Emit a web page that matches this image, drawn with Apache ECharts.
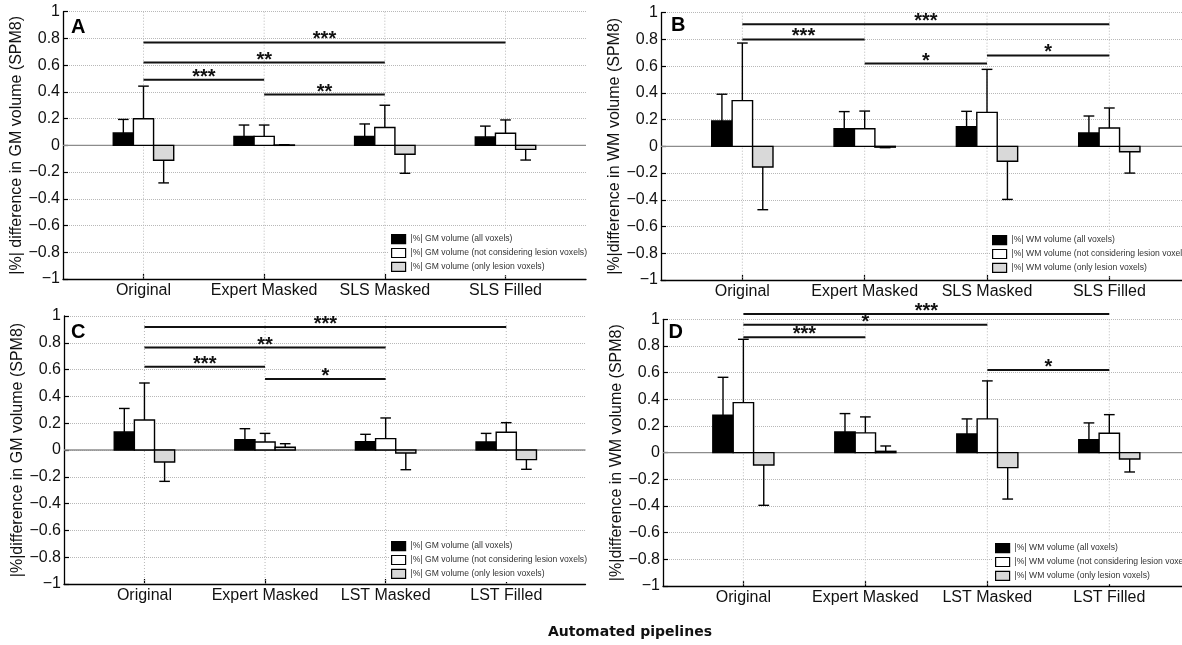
<!DOCTYPE html>
<html>
<head>
<meta charset="utf-8">
<title>|%| difference in GM / WM volume (SPM8)</title>
<script src="https://cdn.jsdelivr.net/npm/echarts@6/dist/echarts.min.js"></script>
<style>
html, body { margin: 0; padding: 0; background: #fff; }
#main { width: 1182px; height: 645px; }
</style>
</head>
<body>
<div id="main"></div>
<script>
// category labels
var catsSLS = ['Original', 'Expert Masked', 'SLS Masked', 'SLS Filled'];
var catsLST = ['Original', 'Expert Masked', 'LST Masked', 'LST Filled'];
var catPos = [1, 2, 3, 4];

// A : GM, SLS pipelines  (mean and sd)
var slsGmAll     = [0.092, 0.067, 0.067, 0.062];
var slsGmAllSd   = [0.102, 0.085, 0.093, 0.082];
var slsGmNoLes   = [0.199, 0.067, 0.134, 0.090];
var slsGmNoLesSd = [0.244, 0.085, 0.166, 0.100];
var slsGmLes     = [-0.112, 0.003, -0.067, -0.030];
var slsGmLesSd   = [0.169, 0.002, 0.142, 0.080];

// B : WM, SLS pipelines
var slsWmAll     = [0.190, 0.132, 0.147, 0.100];
var slsWmAllSd   = [0.200, 0.128, 0.115, 0.127];
var slsWmNoLes   = [0.342, 0.132, 0.254, 0.137];
var slsWmNoLesSd = [0.431, 0.132, 0.322, 0.150];
var slsWmLes     = [-0.155, -0.006, -0.112, -0.040];
var slsWmLesSd   = [0.319, 0.004, 0.285, 0.160];

// C : GM, LST pipelines
var lstGmAll     = [0.134, 0.077, 0.062, 0.060];
var lstGmAllSd   = [0.176, 0.082, 0.055, 0.064];
var lstGmNoLes   = [0.224, 0.060, 0.085, 0.132];
var lstGmNoLesSd = [0.276, 0.064, 0.154, 0.072];
var lstGmLes     = [-0.090, 0.020, -0.022, -0.072];
var lstGmLesSd   = [0.144, 0.027, 0.125, 0.072];

// D : WM, LST pipelines
var lstWmAll     = [0.280, 0.155, 0.140, 0.098];
var lstWmAllSd   = [0.285, 0.138, 0.113, 0.125];
var lstWmNoLes   = [0.375, 0.148, 0.253, 0.145];
var lstWmNoLesSd = [0.475, 0.120, 0.285, 0.140];
var lstWmLes     = [-0.093, 0.010, -0.112, -0.048];
var lstWmLesSd   = [0.302, 0.040, 0.236, 0.097];

// significance brackets (from category, to category, height, stars)
var sigFromA = [1, 1, 1, 2], sigToA = [4, 3, 2, 3], sigYA = [0.77, 0.62, 0.49, 0.38], sigTextA = ['***', '**', '***', '**'];
var sigFromB = [1, 1, 2, 3], sigToB = [4, 2, 3, 4], sigYB = [0.913, 0.80, 0.62, 0.68], sigTextB = ['***', '***', '*', '*'];
var sigFromC = [1, 1, 1, 2], sigToC = [4, 3, 2, 3], sigYC = [0.918, 0.764, 0.622, 0.53], sigTextC = ['***', '**', '***', '*'];
var sigFromD = [1, 1, 1, 3], sigToD = [4, 3, 2, 4], sigYD = [1.04, 0.96, 0.865, 0.62], sigTextD = ['***', '*', '***', '*'];

var BAR_W = 0.167;   // bar width in category units
var CAP_W = 0.088;   // error bar cap width
var FONT = "'Liberation Sans', Arial, Helvetica, sans-serif";

var panels = [
  { letter: 'A', cats: catsSLS, tissue: 'GM', yName: '|%| difference in GM volume (SPM8)',
    vals: [slsGmAll, slsGmNoLes, slsGmLes], sds: [slsGmAllSd, slsGmNoLesSd, slsGmLesSd],
    sig: [sigFromA, sigToA, sigYA, sigTextA],
    grid: { left: 63, top: 11.7, width: 523, height: 267.3 }, xMin: 0.333, xMax: 4.667,
    legendPos: { left: 389, top: 231 }, letterPos: { left: 71, top: 17.5 } },
  { letter: 'B', cats: catsSLS, tissue: 'WM', yName: '|%|difference in WM volume (SPM8)',
    vals: [slsWmAll, slsWmNoLes, slsWmLes], sds: [slsWmAllSd, slsWmNoLesSd, slsWmLesSd],
    sig: [sigFromB, sigToB, sigYB, sigTextB],
    grid: { left: 661, top: 12.7, width: 521, height: 267.3 }, xMin: 0.335, xMax: 4.594,
    legendPos: { left: 990, top: 232 }, letterPos: { left: 671, top: 15.5 } },
  { letter: 'C', cats: catsLST, tissue: 'GM', yName: '|%|difference in GM volume (SPM8)',
    vals: [lstGmAll, lstGmNoLes, lstGmLes], sds: [lstGmAllSd, lstGmNoLesSd, lstGmLesSd],
    sig: [sigFromC, sigToC, sigYC, sigTextC],
    grid: { left: 64, top: 316, width: 521.5, height: 268 }, xMin: 0.333, xMax: 4.657,
    legendPos: { left: 389, top: 538 }, letterPos: { left: 71, top: 322 } },
  { letter: 'D', cats: catsLST, tissue: 'WM', yName: '|%|difference in WM volume (SPM8)',
    vals: [lstWmAll, lstWmNoLes, lstWmLes], sds: [lstWmAllSd, lstWmNoLesSd, lstWmLesSd],
    sig: [sigFromD, sigToD, sigYD, sigTextD],
    grid: { left: 663, top: 319.3, width: 519, height: 266.7 }, xMin: 0.341, xMax: 4.596,
    legendPos: { left: 993, top: 540 }, letterPos: { left: 668.5, top: 322 } }
];

var barKinds = [
  { label: 'all voxels', fill: '#000000', offset: -BAR_W },
  { label: 'not considering lesion voxels', fill: '#ffffff', offset: 0 },
  { label: 'only lesion voxels', fill: '#d9d9d9', offset: BAR_W }
];

function fmtTick(v) {
  var s = String(Math.round(v * 10) / 10);
  return s.replace('-', '\u2212');
}

// bar + one sided error bar
function barItem(offset, fill) {
  return function (params, api) {
    var x = api.value(0) + offset;
    var v = api.value(1);
    var e = api.value(2);
    var sgn = v < 0 ? -1 : 1;
    var p0 = api.coord([x - BAR_W / 2, v]);
    var p1 = api.coord([x + BAR_W / 2, 0]);
    var top = api.coord([x, v]);
    var tip = api.coord([x, v + sgn * e]);
    var capL = api.coord([x - CAP_W / 2, v + sgn * e]);
    var capR = api.coord([x + CAP_W / 2, v + sgn * e]);
    var line = { stroke: '#000', lineWidth: 1.4 };
    return {
      type: 'group',
      children: [
        { type: 'rect',
          shape: { x: Math.min(p0[0], p1[0]), y: Math.min(p0[1], p1[1]),
                   width: Math.abs(p1[0] - p0[0]), height: Math.abs(p1[1] - p0[1]) },
          style: { fill: fill, stroke: '#000', lineWidth: 1.4 } },
        { type: 'line', shape: { x1: top[0], y1: top[1], x2: tip[0], y2: tip[1] }, style: line },
        { type: 'line', shape: { x1: capL[0], y1: capL[1], x2: capR[0], y2: capR[1] }, style: line }
      ]
    };
  };
}

// dotted vertical grid at categories + zero line
function guideItem(params, api) {
  var cs = params.coordSys;
  var p = api.coord([api.value(0), 0]);
  var kids = [{ type: 'line', shape: { x1: p[0], y1: cs.y, x2: p[0], y2: cs.y + cs.height },
                style: { stroke: '#b8b8b8', lineWidth: 1, lineDash: [1, 2] } }];
  if (params.dataIndex === 0) {
    kids.push({ type: 'line', shape: { x1: cs.x, y1: p[1], x2: cs.x + cs.width, y2: p[1] },
                style: { stroke: '#8c8c8c', lineWidth: 1.3 } });
  }
  return { type: 'group', children: kids };
}

function sigItem(texts) {
  return function (params, api) {
    var a = api.coord([api.value(0), api.value(2)]);
    var b = api.coord([api.value(1), api.value(2)]);
    return {
      type: 'group',
      children: [
        { type: 'line', shape: { x1: a[0], y1: a[1], x2: b[0], y2: b[1] },
          style: { stroke: '#111', lineWidth: 2 } },
        { type: 'text', x: (a[0] + b[0]) / 2, y: a[1] - 2.5,
          style: { text: texts[params.dataIndex], fill: '#111', fontSize: 20, fontWeight: 'bold',
                   fontFamily: FONT, align: 'center', verticalAlign: 'middle' } }
      ]
    };
  };
}

var option = {
  animation: false,
  backgroundColor: '#fff',
  title: [],
  legend: [],
  grid: [],
  xAxis: [],
  yAxis: [],
  series: []
};

panels.forEach(function (p, i) {
  option.grid.push(p.grid);

  option.xAxis.push({
    type: 'value', gridIndex: i, min: p.xMin, max: p.xMax,
    axisLine: { onZero: false, lineStyle: { color: '#000', width: 1.3 } },
    axisTick: { customValues: catPos, inside: true, length: 5, lineStyle: { color: '#000', width: 1.2 } },
    axisLabel: { customValues: catPos, fontSize: 16, color: '#111', fontFamily: FONT, margin: 4,
                 formatter: function (v) { return p.cats[Math.round(v) - 1]; } },
    splitLine: { show: false }
  });

  option.yAxis.push({
    type: 'value', gridIndex: i, min: -1, max: 1, interval: 0.2,
    name: p.yName, nameLocation: 'middle', nameGap: 33,
    nameTextStyle: { fontSize: 16, color: '#111', fontFamily: FONT },
    axisLine: { show: true, lineStyle: { color: '#000', width: 1.3 } },
    axisTick: { show: true, inside: true, length: 5, lineStyle: { color: '#000', width: 1.2 } },
    axisLabel: { formatter: fmtTick, fontSize: 16, color: '#111', fontFamily: FONT, margin: 3 },
    splitLine: { show: true, lineStyle: { type: 'dotted', color: '#b8b8b8', width: 1 } }
  });

  option.title.push({
    text: p.letter, left: p.letterPos.left, top: p.letterPos.top, padding: 0,
    textStyle: { fontSize: 20, fontWeight: 'bold', color: '#000', fontFamily: FONT }
  });

  option.series.push({
    type: 'custom', name: 'guide' + i, xAxisIndex: i, yAxisIndex: i, z: 1, silent: true,
    renderItem: guideItem,
    data: catPos.map(function (c) { return [c]; })
  });

  var legendData = [];
  barKinds.forEach(function (k, j) {
    var name = '|%| ' + p.tissue + ' volume (' + k.label + ')';
    legendData.push({ name: name, itemStyle: { color: k.fill, borderColor: '#000', borderWidth: 1.2 } });
    option.series.push({
      type: 'custom', name: name, xAxisIndex: i, yAxisIndex: i, z: 2,
      itemStyle: { color: k.fill, borderColor: '#000', borderWidth: 1.2 },
      renderItem: barItem(k.offset, k.fill),
      data: catPos.map(function (c, n) { return [c, p.vals[j][n], p.sds[j][n]]; })
    });
  });

  option.legend.push({
    orient: 'vertical', left: p.legendPos.left, top: p.legendPos.top,
    padding: [3, 2, 3, 2], backgroundColor: '#fff', selectedMode: false,
    icon: 'rect', itemWidth: 14, itemHeight: 9, itemGap: 3.7,
    textStyle: { fontSize: 8.6, color: '#333', fontFamily: FONT },
    data: legendData
  });

  var s = p.sig;
  option.series.push({
    type: 'custom', name: 'sig' + i, xAxisIndex: i, yAxisIndex: i, z: 3, silent: true,
    renderItem: sigItem(s[3]),
    data: s[0].map(function (f, n) { return [f, s[1][n], s[2][n]]; })
  });
});

option.title.push({
  text: 'Automated pipelines', left: 548, top: 625, padding: 0,
  textStyle: { fontSize: 14, fontWeight: 'bold', color: '#111', fontFamily: "'DejaVu Sans', sans-serif" }
});

var myChart = echarts.init(document.getElementById('main'));
myChart.setOption(option);

window.addEventListener('resize', function () {
  myChart.resize();
});
</script>
</body>
</html>
